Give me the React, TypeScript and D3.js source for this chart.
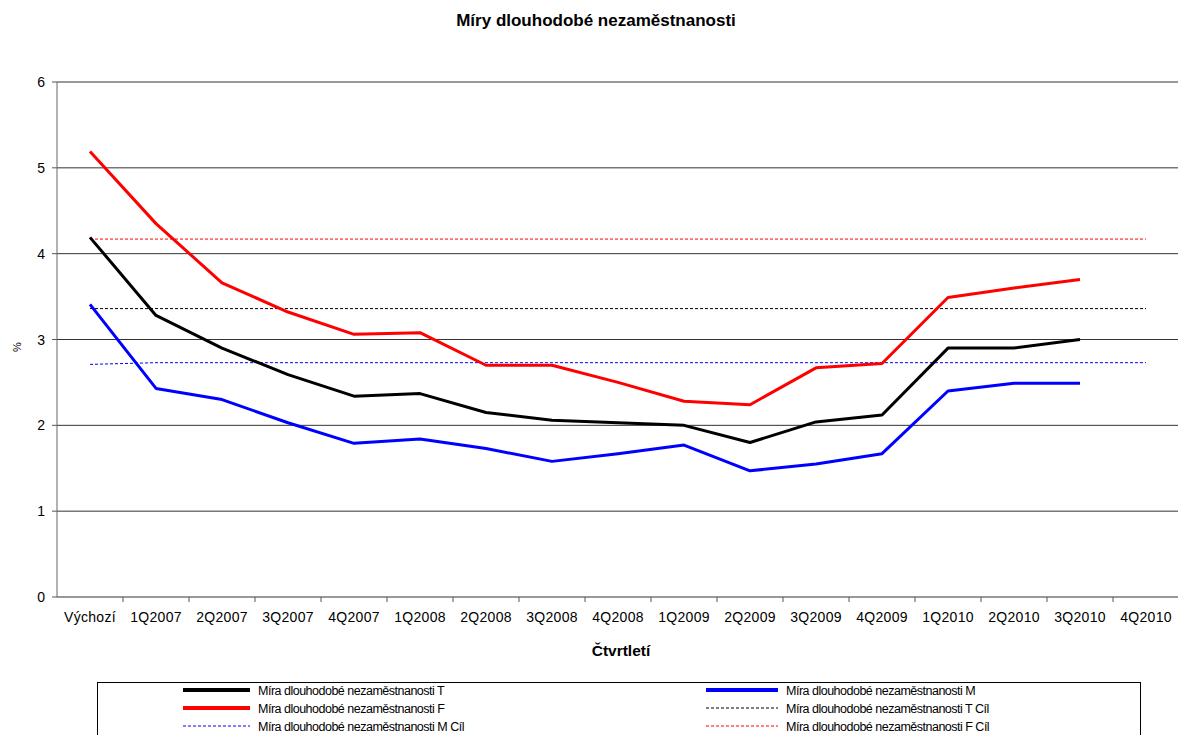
import React from "react";
import * as d3 from "d3";

const categories = ["Výchozí","1Q2007","2Q2007","3Q2007","4Q2007","1Q2008","2Q2008","3Q2008","4Q2008","1Q2009","2Q2009","3Q2009","4Q2009","1Q2010","2Q2010","3Q2010","4Q2010"];
const seriesT = [4.19,3.28,2.90,2.59,2.34,2.37,2.15,2.06,2.03,2.00,1.80,2.04,2.12,2.90,2.90,3.00,null];
const seriesM = [3.41,2.43,2.30,2.03,1.79,1.84,1.73,1.58,1.67,1.77,1.47,1.55,1.67,2.40,2.49,2.49,null];
const seriesF = [5.19,4.35,3.66,3.32,3.06,3.08,2.70,2.70,2.50,2.28,2.24,2.67,2.72,3.49,3.60,3.70,null];
const targetT = [3.36,3.36,3.36,3.36,3.36,3.36,3.36,3.36,3.36,3.36,3.36,3.36,3.36,3.36,3.36,3.36,3.36];
const targetM = [2.71,2.73,2.73,2.73,2.73,2.73,2.73,2.73,2.73,2.73,2.73,2.73,2.73,2.73,2.73,2.73,2.73];
const targetF = [4.17,4.17,4.17,4.17,4.17,4.17,4.17,4.17,4.17,4.17,4.17,4.17,4.17,4.17,4.17,4.17,4.17];
const yTicks = [0,1,2,3,4,5,6];

const series = [
  { name: "Míra dlouhodobé nezaměstnanosti T", values: seriesT, color: "#000000", width: 3, dash: null },
  { name: "Míra dlouhodobé nezaměstnanosti M", values: seriesM, color: "#0000FF", width: 3, dash: null },
  { name: "Míra dlouhodobé nezaměstnanosti F", values: seriesF, color: "#FF0000", width: 3, dash: null },
  { name: "Míra dlouhodobé nezaměstnanosti T Cíl", values: targetT, color: "#000000", width: 1, dash: "3,2" },
  { name: "Míra dlouhodobé nezaměstnanosti M Cíl", values: targetM, color: "#0000FF", width: 1, dash: "3,2" },
  { name: "Míra dlouhodobé nezaměstnanosti F Cíl", values: targetF, color: "#FF0000", width: 1, dash: "3,2" },
];

const legendOrder = [0, 1, 2, 3, 4, 5];

export default function App() {
  const W = 1178, H = 735;
  const left = 57, top = 82, bottom = 597;
  const x = d3.scaleBand<string>().domain(categories).range([left, left + categories.length * 66]).padding(0);
  const y = d3.scaleLinear().domain([0, 6]).range([bottom, top]);
  const cx = (i: number) => (x(categories[i]) as number) + x.bandwidth() / 2;
  const font = "'Liberation Sans', Arial, sans-serif";

  const lineGen = d3.line<number | null>()
    .defined((d) => d !== null)
    .x((_, i) => cx(i))
    .y((d) => y(d as number));

  return (
    <svg width={W} height={H} style={{ position: "absolute", left: 0, top: 0, background: "#fff" }} fontFamily={font}>
      <rect x={0} y={0} width={W} height={H} fill="#fff" />
      <text x={596} y={26} textAnchor="middle" fontSize={17} fontWeight="bold">Míry dlouhodobé nezaměstnanosti</text>

      {yTicks.map((t) => (
        <g key={t}>
          {t > 0 && <line x1={left} x2={W} y1={y(t)} y2={y(t)} stroke="#333" strokeWidth={1} />}
          <line x1={left - 5} x2={left} y1={y(t)} y2={y(t)} stroke="#555" />
          <text x={left - 12} y={y(t) + 5} textAnchor="end" fontSize={14} fill="#000">{t}</text>
        </g>
      ))}
      <line x1={left} x2={left} y1={top} y2={bottom} stroke="#666" />
      <line x1={left} x2={W} y1={bottom} y2={bottom} stroke="#333" />
      {categories.map((c, i) => (
        <g key={c}>
          <line x1={(x(c) as number) + x.bandwidth()} x2={(x(c) as number) + x.bandwidth()} y1={bottom} y2={bottom + 5} stroke="#555" />
          <text x={cx(i)} y={bottom + 25} textAnchor="middle" fontSize={14} letterSpacing={0.3} fill="#000">{c}</text>
        </g>
      ))}
      <text x={621} y={656} textAnchor="middle" fontSize={15.5} fontWeight="bold">Čtvrtletí</text>
      <text transform={`translate(21,347) rotate(-90)`} textAnchor="middle" fontSize={11}>%</text>

      {[3, 4, 5, 0, 1, 2].map((si) => {
        const s = series[si];
        return (
          <path key={s.name} d={lineGen(s.values as (number | null)[]) || ""} fill="none" stroke={s.color}
            strokeWidth={s.width} strokeDasharray={s.dash || undefined} strokeLinejoin="round" />
        );
      })}

      <rect x={97.5} y={682.5} width={1043} height={70} fill="#fff" stroke="#000" />
      {legendOrder.map((si, k) => {
        const s = series[si];
        const col = k % 2;
        const row = Math.floor(k / 2);
        const lx = col === 0 ? 183 : 706;
        const lw = col === 0 ? 67 : 72;
        const ly = 690 + row * 18;
        return (
          <g key={s.name}>
            <line x1={lx} x2={lx + lw} y1={ly} y2={ly} stroke={s.color} strokeWidth={s.width === 3 ? 4 : 1} strokeDasharray={s.dash || undefined} />
            <text x={lx + lw + 8} y={ly + 5} fontSize={12.5} letterSpacing={-0.5} fill="#000">{s.name}</text>
          </g>
        );
      })}
    </svg>
  );
}
